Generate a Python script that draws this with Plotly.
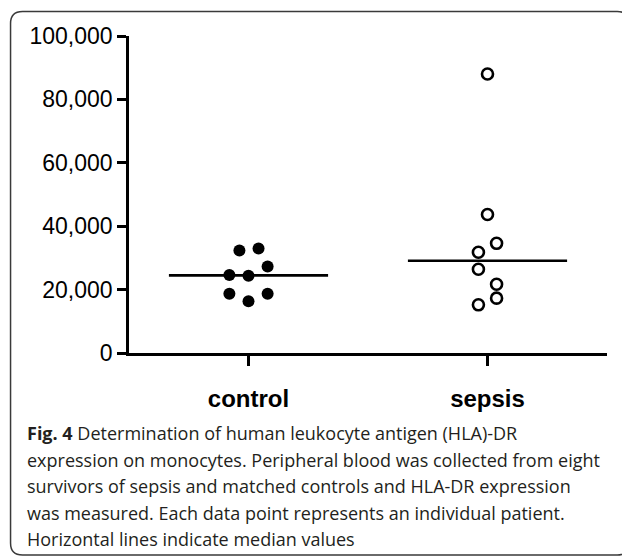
import numpy as np
import plotly.graph_objects as go

# category axis
categories = ["control", "sepsis"]

# HLA-DR expression per patient
control_values = [32300, 33000, 27300, 24600, 24400, 18700, 18700, 16300]
control_offsets = [-0.038, 0.042, 0.08, -0.08, 0.0, -0.08, 0.08, 0.0]
sepsis_values = [88000, 43700, 34600, 31800, 26400, 21700, 17300, 15200]
sepsis_offsets = [0.0, 0.0, 0.038, -0.038, -0.038, 0.038, 0.038, -0.038]

y_ticks = [0, 20000, 40000, 60000, 80000, 100000]

caption_lines = [
    "<b>Fig. 4</b> Determination of human leukocyte antigen (HLA)-DR",
    "expression on monocytes. Peripheral blood was collected from eight",
    "survivors of sepsis and matched controls and HLA-DR expression",
    "was measured. Each data point represents an individual patient.",
    "Horizontal lines indicate median values",
]

W, H = 630, 559
PAGE = 8  # body margin of the page the figure sits in
L, T = 120.5, 28
PW, PH = 478.2, 317
R, B = W - L - PW, H - T - PH


def px_x(x):
    # screen pixel -> paper fraction
    return (x - PAGE - L) / PW


def px_y(y):
    return (H - B - (y - PAGE)) / PH


fig = go.Figure()

# control: filled dots
fig.add_trace(go.Scatter(
    x=[0 + o for o in control_offsets], y=control_values, mode="markers",
    marker=dict(symbol="circle", size=12, color="black"),
    hoverinfo="y", showlegend=False
))

# sepsis: open circles
fig.add_trace(go.Scatter(
    x=[1 + o for o in sepsis_offsets], y=sepsis_values, mode="markers",
    marker=dict(symbol="circle-open", size=11, color="black", line=dict(width=2.6)),
    hoverinfo="y", showlegend=False
))

# median lines
for i, vals in enumerate([control_values, sepsis_values]):
    med = float(np.median(vals))
    fig.add_trace(go.Scatter(
        x=[i - 0.333, i + 0.333], y=[med, med], mode="lines",
        line=dict(color="black", width=2.6), hoverinfo="none", showlegend=False
    ))

# rounded frame around the panel
x0, x1 = px_x(10), px_x(629)
y0, y1 = px_y(555), px_y(11.5)
rx, ry = 12 / PW, 12 / PH
path = (f"M {x0 + rx},{y1} L {x1 - rx},{y1} Q {x1},{y1} {x1},{y1 - ry} "
        f"L {x1},{y0 + ry} Q {x1},{y0} {x1 - rx},{y0} "
        f"L {x0 + rx},{y0} Q {x0},{y0} {x0},{y0 + ry} "
        f"L {x0},{y1 - ry} Q {x0},{y1} {x0 + rx},{y1} Z")
fig.add_shape(type="path", path=path, xref="paper", yref="paper",
              line=dict(color="#3a3a3a", width=1.5), layer="below")

# caption
for i, line in enumerate(caption_lines):
    fig.add_annotation(
        x=px_x(24), y=px_y(433 + i * 26.5), xref="paper", yref="paper",
        xanchor="left", yanchor="middle", showarrow=False, align="left",
        text=line, font=dict(family="Open Sans", size=18, color="#231f20")
    )

fig.update_layout(
    width=W, height=H,
    margin=dict(l=L, r=R, t=T, b=B),
    plot_bgcolor="white", paper_bgcolor="white",
    font=dict(family="Liberation Sans, Arial", color="black"),
    xaxis=dict(
        range=[-0.5, 1.5], tickmode="array", tickvals=[0, 1],
        ticktext=[f"<b>{c}</b>" for c in categories],
        tickfont=dict(size=24), ticks="outside", ticklen=10, tickwidth=2.6,
        tickcolor="black", showline=True, linecolor="black", linewidth=2.6,
        showgrid=False, zeroline=False, ticklabelstandoff=12, fixedrange=True
    ),
    yaxis=dict(
        range=[0, 100000], tickvals=y_ticks,
        ticktext=[f"{v:,}" for v in y_ticks],
        tickfont=dict(size=23), ticks="outside", ticklen=9, tickwidth=2.6,
        tickcolor="black", showline=True, linecolor="black", linewidth=2.6,
        showgrid=False, zeroline=False, fixedrange=True
    ),
)

fig.write_html("out.html")
